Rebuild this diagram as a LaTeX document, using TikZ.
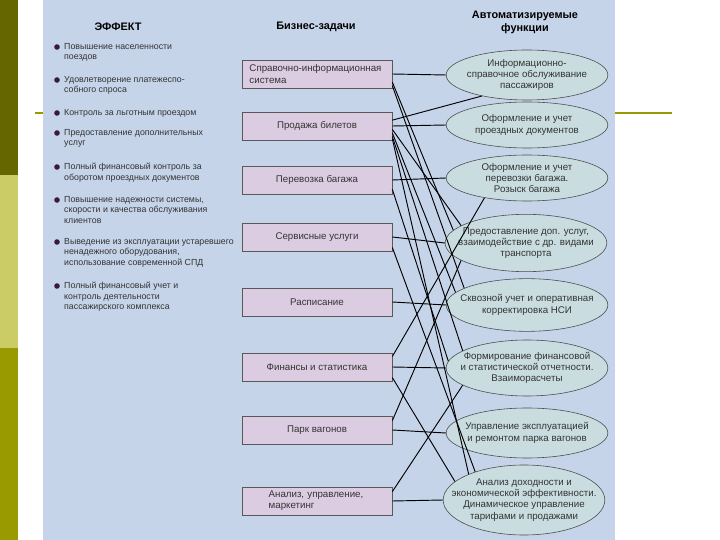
\documentclass[tikz,border=0pt]{standalone}
\usepackage{fontspec}
\setsansfont{Liberation Sans}
\usepackage{xcolor}
\usetikzlibrary{arrows.meta, positioning, shapes.geometric}
\definecolor{panelblue}{HTML}{C6D4EA}
\definecolor{taskfill}{HTML}{DCCCE2}
\definecolor{funcfill}{HTML}{C9DDE0}
\definecolor{olivedark}{HTML}{666600}
\definecolor{olivelight}{HTML}{CCCC66}
\definecolor{olivemid}{HTML}{999900}
\definecolor{bulletcol}{HTML}{3A1A3A}

\begin{document}
\begin{tikzpicture}[
  x=0.03cm, y=-0.03cm,
  txt/.style={font=\sffamily\fontsize{8.3}{9.6}\selectfont, text=black!80},
  head/.style={font=\sffamily\bfseries\fontsize{9.3}{11}\selectfont, align=center},
  effect/.style={font=\sffamily\fontsize{7.5}{9}\selectfont, text=black!80, anchor=north west, align=left, inner sep=0pt},
  task/.style={draw=black!65, line width=0.6pt, fill=taskfill, minimum width=4.5cm, minimum height=0.84cm, inner sep=1pt, txt, align=center},
  func/.style={ellipse, draw=black!70, line width=0.5pt, fill=funcfill, minimum width=4.85cm, minimum height=1.5cm, inner xsep=-0.6cm, inner ysep=0pt, txt, align=center},
  link/.style={black, line width=0.8pt}
]
  \useasboundingbox (0,0) rectangle (720,540);

  % Slide background
  \fill[white] (0,0) rectangle (720,540);
  \fill[olivedark] (0,0) rectangle (18,175);
  \fill[olivelight] (0,175) rectangle (18,348);
  \fill[olivemid] (0,348) rectangle (18,540);
  \draw[olivemid, line width=1.2pt] (35,113) -- (672,113);
  \fill[panelblue] (43,0) rectangle (615,540);

  % Headers
  \node[head] (heff) at (118,27) {ЭФФЕКТ};
  \node[head] (htask) at (316,27) {Бизнес-задачи};
  \node[head] (hfunc) at (525,22) {Автоматизируемые\\функции};

  % Effects
  \foreach \y/\t in {
      43/{Повышение населенности\\поездов},
      76/{Удовлетворение платежеспо-\\собного спроса},
      109/{Контроль за льготным проездом},
      129/{Предоставление дополнительных\\услуг},
      163/{Полный финансовый контроль за\\оборотом проездных документов},
      196/{Повышение надежности системы,\\скорости и качества обслуживания\\клиентов},
      238/{Выведение из эксплуатации устаревшего\\ненадежного оборудования,\\использование современной СПД},
      282/{Полный финансовый учет и\\контроль деятельности\\пассажирского комплекса}} {
    \fill[bulletcol] (57,\y+4) circle (2.8);
    \node[effect] at (64,\y) {\t};
  }

  % Business tasks
  \node[task, align=left, text width=4.05cm] (b1) at (317,74) {Справочно-информационная\\система};
  \node[task] (b2) at (317,126) {Продажа билетов};
  \node[task] (b3) at (317,180) {Перевозка багажа};
  \node[task] (b4) at (317,237) {Сервисные услуги};
  \node[task] (b5) at (317,302) {Расписание};
  \node[task] (b6) at (317,367) {Финансы и статистика};
  \node[task] (b7) at (317,430) {Парк вагонов};
  \node[task, align=left, text width=2.9cm] (b8) at (317,501) {Анализ, управление,\\маркетинг};

  % Automated functions
  \node[func] (e1) at (527,75) {Информационно-\\справочное обслуживание\\пассажиров};
  \node[func, minimum height=1.38cm] (e2) at (527,125) {Оформление и учет\\проездных документов};
  \node[func, minimum height=1.38cm] (e3) at (527,178) {Оформление и учет\\перевозки багажа.\\Розыск багажа};
  \node[func, minimum height=1.72cm] (e4) at (526,243) {Предоставление доп. услуг,\\взаимодействие с др. видами\\транспорта};
  \node[func, minimum height=1.58cm] (e5) at (527,305) {Сквозной учет и оперативная\\корректировка НСИ};
  \node[func, minimum height=1.68cm] (e6) at (527,368) {Формирование финансовой\\и статистической отчетности.\\Взаиморасчеты};
  \node[func] (e7) at (527,433) {Управление эксплуатацией\\и ремонтом парка вагонов};
  \node[func, minimum height=2.1cm] (e8) at (524,500) {Анализ доходности и\\экономической эффективности.\\Динамическое управление\\тарифами и продажами};

  % Connections
  \foreach \i in {1,...,8}
    \draw[link] (b\i.east) -- (e\i.west);
  \foreach \b/\s/\e in {b2/5/e1.205, b1/-10/e5.165, b1/-7/e4.170, b2/-3/e4.165,
      b2/-6/e5.170, b2/-9/e6.165, b2/-11/e8.155, b3/-8/e6.175, b4/-9/e8.150,
      b6/-9/e8.165, b8/8/e6.195, b7/8/e4.195, b6/9/e3.205}
    \draw[link] ([yshift=\s pt]\b.east) -- (\e);
\end{tikzpicture}
\end{document}
